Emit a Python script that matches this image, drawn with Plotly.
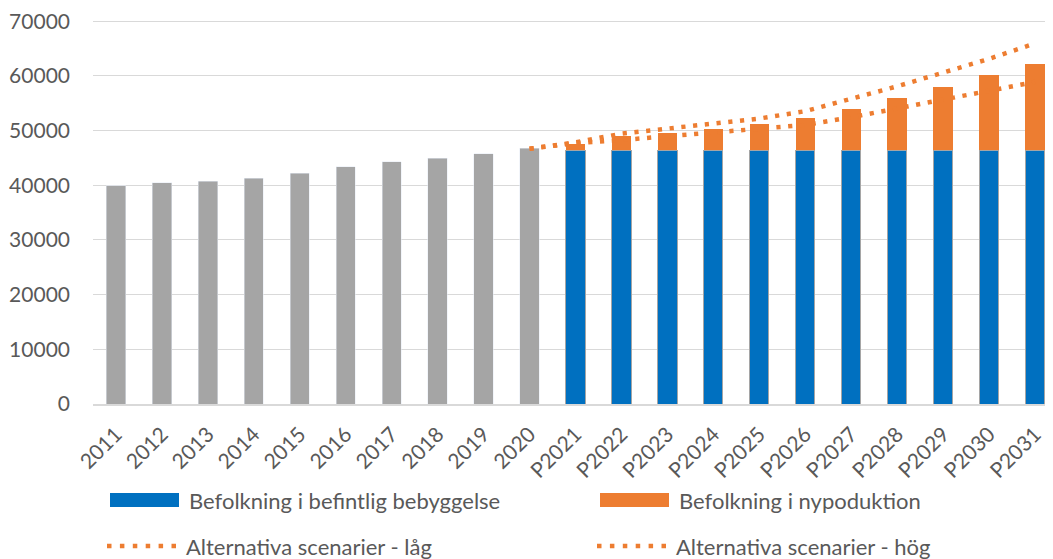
import plotly.graph_objects as go

categories = ["2011", "2012", "2013", "2014", "2015", "2016", "2017", "2018", "2019", "2020",
              "P2021", "P2022", "P2023", "P2024", "P2025", "P2026", "P2027", "P2028", "P2029", "P2030", "P2031"]

historical = [39900, 40480, 40710, 41330, 42250, 43400, 44320, 44990, 45730, 46780]
existing = [46450] * 11
newbuild = [1100, 2570, 3180, 3920, 4720, 5940, 7600, 9500, 11530, 13800, 15820]

scenario_cats = ["2020", "P2021", "P2022", "P2023", "P2024", "P2025", "P2026", "P2027", "P2028", "P2029", "P2030", "P2031"]
scenario_low = [46700, 47700, 48280, 48960, 49570, 50250, 51040, 52450, 54050, 55770, 57360, 58900]
scenario_high = [46700, 47850, 49450, 50310, 51170, 52210, 53560, 55770, 58100, 60610, 63130, 65950]

names = ["Befolkning i befintlig bebyggelse", "Befolkning i nypoduktion",
         "Alternativa scenarier - låg", "Alternativa scenarier - hög"]

GRAY = "#a5a5a5"
BLUE = "#0070c0"
ORANGE = "#ed7d31"
TEXT = "#595959"
FONT = "Lato"
FS_TICK = 21
FS_LEG = 22

fig = go.Figure()
fig.add_trace(go.Bar(x=categories[:10], y=historical, marker_color=GRAY, showlegend=False,
                     name="Historik"))
fig.add_trace(go.Bar(x=categories[10:], y=existing, marker_color=BLUE,
                     marker_line=dict(color=GRAY, width=1), name=names[0], showlegend=False))
fig.add_trace(go.Bar(x=categories[10:], y=newbuild, marker_color=ORANGE,
                     marker_line_width=0, name=names[1], showlegend=False))
DASH = "4.2px,7.6px"
fig.add_trace(go.Scatter(x=scenario_cats, y=scenario_low, mode="lines",
                         line=dict(color=ORANGE, width=4.5, dash=DASH), name=names[2], showlegend=False))
fig.add_trace(go.Scatter(x=scenario_cats, y=scenario_high, mode="lines",
                         line=dict(color=ORANGE, width=4.5, dash=DASH), name=names[3], showlegend=False))

# The page body has an 8px margin, so the figure is drawn 8px in from the top-left corner.
OFF = 8
W, H = 1053 - OFF, 559 - OFF
# plot area in page pixels: x 93..1052, y 19..404 (0 at 404, 70000 at ~21)
L, R, T, B = 93 - OFF, 1, 19 - OFF, 559 - 404
pw, ph = W - L - R, H - T - B
YMAX = 70420


def px(x):
    return (x - OFF - L) / pw


def py(y):
    return (H - B - (y - OFF)) / ph


shapes = []
annotations = []
legend_rows = [
    (110, 179, 500, names[0], "bar", BLUE),
    (600, 669, 500, names[1], "bar", ORANGE),
    (107, 176, 546, names[2], "dot", ORANGE),
    (597, 666, 546, names[3], "dot", ORANGE),
]
for x0, x1, yc, label, kind, color in legend_rows:
    if kind == "bar":
        shapes.append(dict(type="rect", xref="paper", yref="paper",
                           x0=px(x0), x1=px(x1), y0=py(yc - 7), y1=py(yc + 7),
                           fillcolor=color, line=dict(width=0)))
    else:
        shapes.append(dict(type="line", xref="paper", yref="paper",
                           x0=px(x0), x1=px(x1), y0=py(yc), y1=py(yc),
                           line=dict(color=color, width=4.5, dash="4.5px,8.4px")))
    annotations.append(dict(xref="paper", yref="paper", x=px(x1 + 8), y=py(yc),
                            xanchor="left", yanchor="middle", text=label, showarrow=False,
                            font=dict(family=FONT, size=FS_LEG, color=TEXT)))

fig.update_layout(
    width=W, height=H,
    margin=dict(l=L, r=R, t=T, b=B, pad=0, autoexpand=False),
    barmode="stack",
    bargap=0.58,
    plot_bgcolor="white",
    paper_bgcolor="white",
    font=dict(family=FONT, size=FS_TICK, color=TEXT),
    shapes=shapes,
    annotations=annotations,
    showlegend=False,
)
fig.update_xaxes(type="category", categoryorder="array", categoryarray=categories,
                 range=[-0.5, 20.37], tickangle=-45, showgrid=False, automargin=False,
                 showline=True, linecolor="#d9d9d9", linewidth=1.5,
                 ticks="", ticklabelstandoff=8, tickfont=dict(family=FONT, size=FS_TICK, color=TEXT))
fig.update_yaxes(range=[0, YMAX], tick0=0, dtick=10000, showgrid=True, automargin=False,
                 gridcolor="#d9d9d9", gridwidth=1.3, zeroline=False, showline=False,
                 ticks="", ticklabelstandoff=22, tickformat="d", ticklabeloverflow="allow",
                 tickfont=dict(family=FONT, size=FS_TICK, color=TEXT))

fig.write_html("out.html")
